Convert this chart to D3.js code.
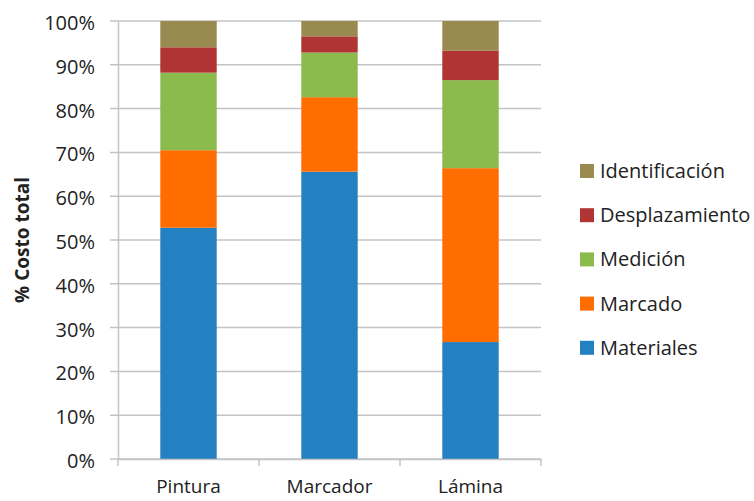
<!DOCTYPE html>
<html>
<head>
<meta charset="utf-8">
<script src="https://cdn.jsdelivr.net/npm/d3@7"></script>
<style>
  body { margin: 0; background: #fff; }
  svg text { font-family: "Open Sans", sans-serif; fill: #222; }
</style>
</head>
<body>
<svg id="chart" width="754" height="501"></svg>
<script>
// Share of total cost per method, by cost component (percent)
const categories = ["Pintura", "Marcador", "Lámina"];
const seriesNames = ["Materiales", "Marcado", "Medición", "Desplazamiento", "Identificación"];
const materiales     = [52.8, 65.6, 26.7];
const marcado        = [17.7, 17.0, 39.7];
const medicion       = [17.7, 10.2, 20.1];
const desplazamiento = [5.8, 3.7, 6.7];
const identificacion = [6.0, 3.5, 6.8];
const yTicks = [0, 10, 20, 30, 40, 50, 60, 70, 80, 90, 100];
const colors = ["#2481c1", "#ff6c00", "#8bbb4d", "#b03434", "#998a50"];

const seriesValues = [materiales, marcado, medicion, desplazamiento, identificacion];
const rows = categories.map((c, i) => {
  const r = { cat: c };
  seriesNames.forEach((s, k) => { r[s] = seriesValues[k][i]; });
  return r;
});

const FONT = "'Open Sans', sans-serif";
const svg = d3.select("#chart");
const plotLeft = 118, plotRight = 541, plotTop = 21, plotBottom = 459;

const x = d3.scaleBand().domain(categories).range([plotLeft, plotRight]).paddingInner(0.6).paddingOuter(0.3);
const xOuter = d3.scaleBand().domain(categories).range([plotLeft, plotRight]);
const y = d3.scaleLinear().domain([0, 100]).range([plotBottom, plotTop]);
const color = d3.scaleOrdinal().domain(seriesNames).range(colors);

// horizontal gridlines
svg.append("g").selectAll("line").data(yTicks).join("line")
  .attr("x1", plotLeft - 8).attr("x2", plotRight)
  .attr("y1", d => y(d)).attr("y2", d => y(d))
  .attr("stroke", "#c4c4c4").attr("stroke-width", 1.5);

// y axis
const yAxis = d3.axisLeft(y).tickValues(yTicks).tickFormat(d => d + "%").tickSize(0).tickPadding(23);
const gy = svg.append("g").attr("transform", `translate(${plotLeft},0)`).call(yAxis);
gy.select(".domain").attr("stroke", "#c4c4c4").attr("stroke-width", 1.5);
gy.selectAll("text").attr("font-size", 20).attr("dy", "0.42em")
  .attr("fill", "#333").attr("font-family", FONT);

// stacked bars
const stack = d3.stack().keys(seriesNames)(rows);
svg.append("g").selectAll("g").data(stack).join("g")
  .attr("fill", d => color(d.key))
  .selectAll("rect").data(d => d).join("rect")
  .attr("x", d => x(d.data.cat))
  .attr("width", x.bandwidth())
  .attr("y", d => y(d[1]))
  .attr("height", d => y(d[0]) - y(d[1]));

// x axis
const xAxis = d3.axisBottom(xOuter).tickSize(0).tickPadding(21);
const gx = svg.append("g").attr("transform", `translate(0,${plotBottom})`).call(xAxis);
gx.select(".domain").attr("stroke", "#c4c4c4").attr("stroke-width", 1.5);
gx.selectAll("text").attr("font-size", 19).attr("fill", "#222").attr("font-family", FONT);
// category boundary ticks
const bounds = [plotLeft].concat(categories.map(c => xOuter(c) + xOuter.bandwidth()));
svg.append("g").selectAll("line").data(bounds).join("line")
  .attr("x1", d => d).attr("x2", d => d)
  .attr("y1", plotBottom).attr("y2", plotBottom + 7)
  .attr("stroke", "#c4c4c4").attr("stroke-width", 1.5);

// y axis title
svg.append("text")
  .attr("transform", `translate(29,240) rotate(-90)`)
  .attr("text-anchor", "middle")
  .attr("font-size", 19).attr("font-weight", "bold")
  .text("% Costo total");

// legend, top entry is the top segment
const legendItems = seriesNames.slice().reverse();
const lg = svg.append("g").selectAll("g").data(legendItems).join("g")
  .attr("transform", (d, i) => `translate(580,${171 + i * 44.2})`);
lg.append("rect").attr("x", 0).attr("y", -7).attr("width", 14).attr("height", 14)
  .attr("fill", d => color(d));
lg.append("text").attr("x", 20).attr("y", 0).attr("dy", "0.35em")
  .attr("font-size", 20).text(d => d);
</script>
</body>
</html>
